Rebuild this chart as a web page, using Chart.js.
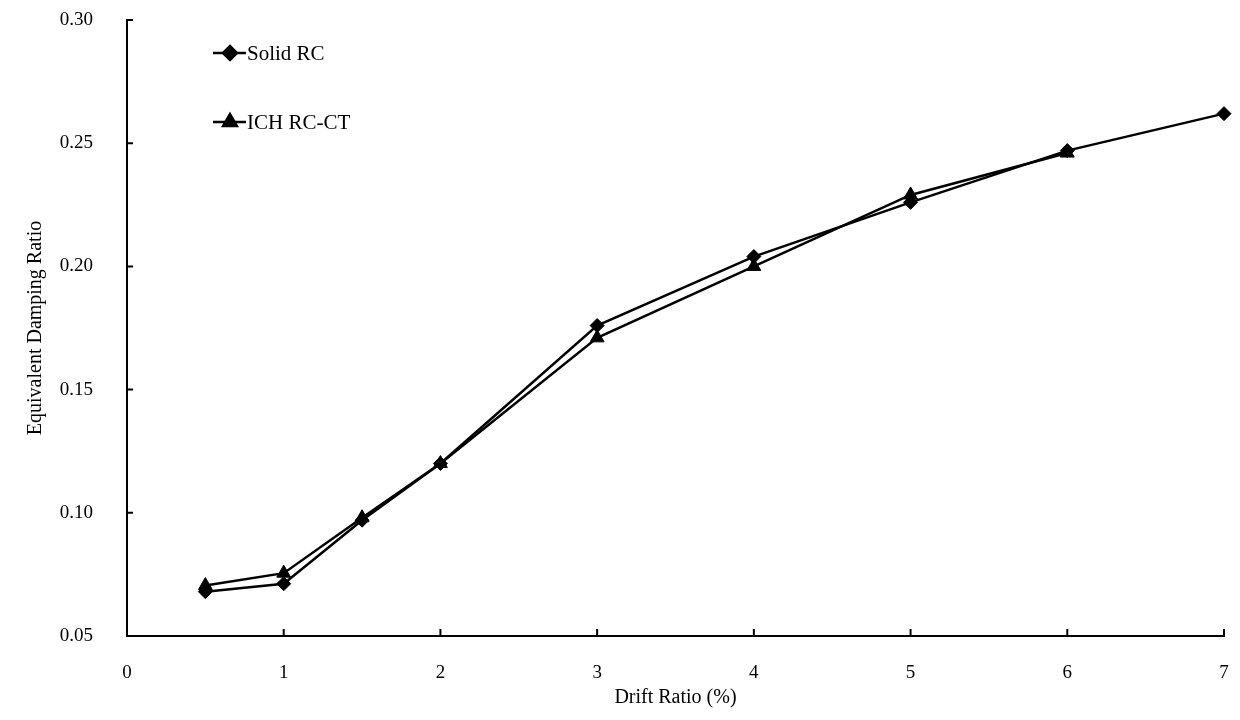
<!DOCTYPE html>
<html>
<head>
<meta charset="utf-8">
<script src="https://cdn.jsdelivr.net/npm/chart.js@4.4.1/dist/chart.umd.min.js"></script>
<style>
  html, body { margin: 0; padding: 0; background: #fff; }
  #wrap { width: 1240px; height: 720px; }
</style>
</head>
<body>
<div id="wrap"><canvas id="grafico" width="1240" height="720"></canvas></div>
<script>
// datos
const driftRatio = [0.5, 1, 1.5, 2, 3, 4, 5, 6, 7];
const solidRC = [0.068, 0.0712, 0.097, 0.120, 0.176, 0.204, 0.226, 0.247, 0.262];
const ichRCCT = [0.0705, 0.0755, 0.098, 0.120, 0.171, 0.200, 0.229, 0.246];
const xTicks = [0, 1, 2, 3, 4, 5, 6, 7];
const yTicks = [0.05, 0.10, 0.15, 0.20, 0.25, 0.30];

const fuente = '"Liberation Serif", "DejaVu Serif", serif';

function puntos(xs, ys) {
    return ys.map((y, i) => ({ x: xs[i], y: y }));
}

// marcas de eje hacia dentro + leyenda dentro del área
const marcasYLeyenda = {
    id: 'marcasYLeyenda',
    afterDraw(chart) {
        const ctx = chart.ctx;
        const xs = chart.scales.x;
        const ys = chart.scales.y;
        const area = chart.chartArea;
        ctx.save();
        ctx.strokeStyle = '#000';
        ctx.lineWidth = 2;
        ctx.beginPath();
        xTicks.forEach(v => {
            const px = xs.getPixelForValue(v);
            ctx.moveTo(px, area.bottom);
            ctx.lineTo(px, area.bottom - 7);
        });
        yTicks.forEach(v => {
            const py = ys.getPixelForValue(v);
            ctx.moveTo(area.left, py);
            ctx.lineTo(area.left + 6, py);
        });
        ctx.stroke();

        // leyenda
        const items = [
            { label: 'Solid RC', style: 'rectRot', radius: 7, y: 53 },
            { label: 'ICH RC-CT', style: 'triangle', radius: 8, y: 122 }
        ];
        items.forEach(it => {
            ctx.strokeStyle = '#000';
            ctx.lineWidth = 2.5;
            ctx.beginPath();
            ctx.moveTo(213, it.y);
            ctx.lineTo(246, it.y);
            ctx.stroke();
            ctx.fillStyle = '#000';
            Chart.helpers.drawPoint(ctx, { pointStyle: it.style, radius: it.radius, rotation: 0, borderWidth: 1 }, 230, it.y);
            ctx.fillStyle = '#000';
            ctx.font = '21px ' + fuente;
            ctx.textBaseline = 'middle';
            ctx.textAlign = 'left';
            ctx.fillText(it.label, 247, it.y + 1);
        });
        ctx.restore();
    }
};

const ctx = document.getElementById('grafico').getContext('2d');
const grafico = new Chart(ctx, {
    type: 'line',
    data: {
        datasets: [{
            label: 'Solid RC',
            data: puntos(driftRatio, solidRC),
            borderColor: '#000',
            backgroundColor: '#000',
            borderWidth: 2.5,
            pointStyle: 'rectRot',
            pointRadius: 7,
            pointBorderWidth: 1,
            tension: 0,
            clip: false
        }, {
            label: 'ICH RC-CT',
            data: puntos(driftRatio, ichRCCT),
            borderColor: '#000',
            backgroundColor: '#000',
            borderWidth: 2.5,
            pointStyle: 'triangle',
            pointRadius: 8,
            pointBorderWidth: 1,
            tension: 0,
            clip: false
        }]
    },
    options: {
        responsive: false,
        animation: false,
        layout: { padding: { top: 20, right: 16, left: 0, bottom: 0 } },
        plugins: {
            legend: { display: false },
            tooltip: { enabled: false }
        },
        scales: {
            x: {
                type: 'linear',
                min: 0,
                max: 7,
                afterBuildTicks(scale) { scale.ticks = xTicks.map(v => ({ value: v })); },
                afterFit(scale) {
                    scale.height = 84;
                    scale.paddingLeft = 0;
                    scale.paddingRight = 0;
                },
                border: { display: true, color: '#000', width: 2 },
                grid: { display: false },
                ticks: {
                    color: '#000',
                    padding: 18,
                    font: { family: fuente, size: 19 }
                },
                title: {
                    display: true,
                    text: 'Drift Ratio (%)',
                    color: '#000',
                    padding: { top: 0, bottom: 10 },
                    font: { family: fuente, size: 20 }
                }
            },
            y: {
                min: 0.05,
                max: 0.30,
                afterBuildTicks(scale) { scale.ticks = yTicks.map(v => ({ value: v })); },
                afterFit(scale) {
                    scale.width = 127;
                    scale.paddingTop = 0;
                    scale.paddingBottom = 0;
                },
                border: { display: true, color: '#000', width: 2 },
                grid: { display: false },
                ticks: {
                    color: '#000',
                    padding: 26,
                    font: { family: fuente, size: 19 },
                    callback: v => v.toFixed(2)
                },
                title: {
                    display: true,
                    text: 'Equivalent Damping Ratio',
                    color: '#000',
                    padding: { top: 24, bottom: 0 },
                    font: { family: fuente, size: 20 }
                }
            }
        }
    },
    plugins: [marcasYLeyenda]
});
</script>
</body>
</html>
